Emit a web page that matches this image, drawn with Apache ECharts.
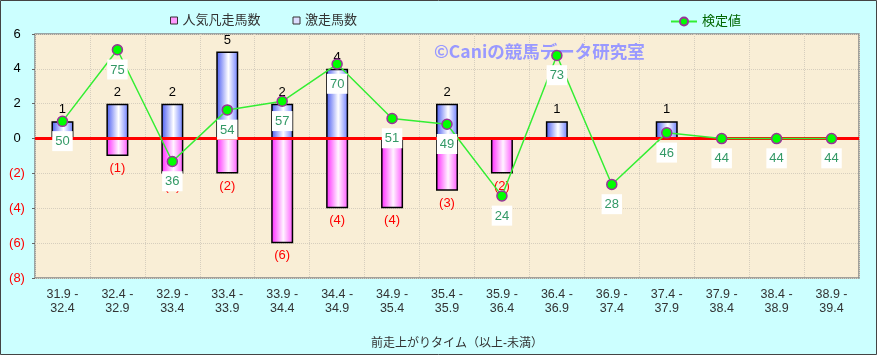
<!DOCTYPE html>
<html><head><meta charset="utf-8">
<script src="https://cdn.jsdelivr.net/npm/echarts@6/dist/echarts.min.js"></script>
<style>html,body{margin:0;padding:0;background:#ccffff}#c{width:877px;height:355px}</style>
</head><body><div id="c"></div>
<script>
const categories = ['31.9 -\n32.4','32.4 -\n32.9','32.9 -\n33.4','33.4 -\n33.9','33.9 -\n34.4','34.4 -\n34.9','34.9 -\n35.4','35.4 -\n35.9','35.9 -\n36.4','36.4 -\n36.9','36.9 -\n37.4','37.4 -\n37.9','37.9 -\n38.4','38.4 -\n38.9','38.9 -\n39.4'];
const gekisou = [1,2,2,5,2,4,0,2,0,1,0,1,0,0,0];
const ninkiBonsou = [0,-1,-2,-2,-6,-4,-4,-3,-2,0,0,0,0,0,0];
const kenteichi = [50,75,36,54,57,70,51,49,24,73,28,46,44,44];
const kenteichiFull = kenteichi.concat([44]);
const yTicks = {min:-8, max:6, interval:2};

const FONT = 'Liberation Sans, "Noto Sans CJK JP", sans-serif';
const blueGrad = new echarts.graphic.LinearGradient(0,0,1,0,[
  {offset:0,color:'#4557f2'},{offset:0.55,color:'#ffffff'},{offset:1,color:'#6a7bff'}]);
const pinkGrad = new echarts.graphic.LinearGradient(0,0,1,0,[
  {offset:0,color:'#ff22ff'},{offset:0.55,color:'#fff4ff'},{offset:1,color:'#ff55ff'}]);

const chart = echarts.init(document.getElementById('c'));
chart.setOption({
  backgroundColor:'#ccffff',
  animation:false,
  textStyle:{fontFamily:FONT},
  grid:{left:35,right:18,top:34,bottom:77,show:true,backgroundColor:'#f9eed6',borderColor:'#888',borderWidth:1.5},
  legend:[{
    left:165, top:9, itemWidth:7, itemHeight:7, itemGap:32,
    textStyle:{fontSize:13,color:'#333',fontFamily:FONT},
    data:[{name:'人気凡走馬数',icon:'rect',itemStyle:{color:'#ff99ff',borderColor:'#333',borderWidth:1}},
          {name:'激走馬数',icon:'rect',itemStyle:{color:'#ddddff',borderColor:'#333',borderWidth:1}}]
  },{
    left:665, top:10, itemWidth:26, itemHeight:10,
    textStyle:{fontSize:13,color:'#006600',fontFamily:FONT},
    data:[{name:'検定値'}]
  }],
  graphic:[
    {type:'text',left:434,top:43,style:{text:'©Caniの競馬データ研究室',fill:'#9999ff',font:'bold 17.5px "Noto Sans CJK JP", sans-serif'},z:1},
    {type:'rect',shape:{x:0.5,y:0.5,width:876,height:354},style:{fill:'none',stroke:'#444',lineWidth:1},silent:true}
  ],
  xAxis:{
    type:'category', data:categories, boundaryGap:true,
    axisLine:{show:false}, axisTick:{show:false},
    axisLabel:{fontSize:12.5,color:'#333',lineHeight:14,margin:10,interval:0},
    splitLine:{show:true,lineStyle:{color:'#d6cebe',type:'dotted',width:1}},
    name:'前走上がりタイム（以上-未満）', nameLocation:'middle', nameGap:60,
    nameTextStyle:{fontSize:12,color:'#333',padding:[0,0,0,20]}
  },
  yAxis:[{
    type:'value', min:yTicks.min, max:yTicks.max, interval:yTicks.interval,
    axisLine:{show:false}, axisTick:{show:true,length:3,lineStyle:{color:'#666'}},
    axisLabel:{fontSize:13,margin:18,align:'center',
      formatter:v=> v<0 ? '('+(-v)+')' : String(v),
      color:v=> v<0 ? '#ff0000' : '#000'},
    splitLine:{show:true,lineStyle:{color:'#d6cebe',type:'dotted',width:1}}
  },{
    type:'value', show:false, min:-4.64, max:80.48,
    splitLine:{show:false}
  }],
  series:[{
    name:'人気凡走馬数', type:'bar', data:ninkiBonsou, barWidth:22, barGap:'-100%',
    itemStyle:{color:pinkGrad,borderColor:'#000',borderWidth:1.5},
    label:{show:true,position:'bottom',distance:6,color:'#ff0000',fontSize:13,
      formatter:p=> p.value<0 ? '('+(-p.value)+')' : ''},
    markLine:{silent:true,symbol:'none',label:{show:false},
      lineStyle:{color:'#ff0000',width:3,type:'solid'},data:[{yAxis:0}],z:5}
  },{
    name:'激走馬数', type:'bar', data:gekisou, barWidth:22, barGap:'-100%',
    itemStyle:{color:blueGrad,borderColor:'#000',borderWidth:1.5},
    label:{show:true,position:'top',distance:5,color:'#000',fontSize:13,
      formatter:p=> p.value>0 ? String(p.value) : ''}
  },{
    name:'検定値', type:'line', yAxisIndex:1, data:kenteichiFull, z:10,
    symbol:'circle', symbolSize:10,
    lineStyle:{color:'#33ee33',width:1.5},
    itemStyle:{color:'#00ff00',borderColor:'#993399',borderWidth:1.5},
    label:{show:true,position:'bottom',distance:4,color:'#339966',fontSize:13,
      backgroundColor:'#ffffff',padding:[4,3,3,3]}
  }]
});
</script></body></html>
